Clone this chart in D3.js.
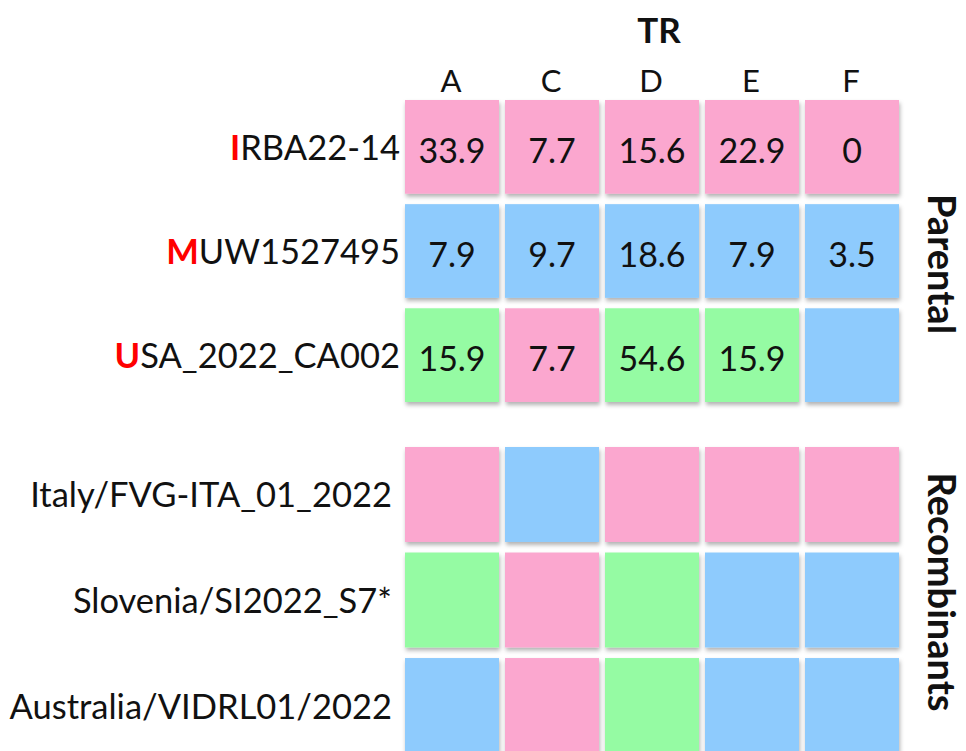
<!DOCTYPE html>
<html>
<head>
<meta charset="utf-8">
<script src="https://cdn.jsdelivr.net/npm/d3@7"></script>
<style>
  body { margin: 0; background: #fff; }
  svg { display: block; font-family: Lato, "Open Sans", sans-serif; }
</style>
</head>
<body>
<svg id="chart"></svg>
<script>
// TR columns
var columns = ['A', 'C', 'D', 'E', 'F'];

// parental strains (first letter is the parent code)
var parentalRows = ['IRBA22-14', 'MUW1527495', 'USA_2022_CA002'];
var recombinantRows = ['Italy/FVG-ITA_01_2022', 'Slovenia/SI2022_S7*', 'Australia/VIDRL01/2022'];

// which parent each cell comes from (I / M / U)
var parentalOrigin = [
	['I', 'I', 'I', 'I', 'I'],
	['M', 'M', 'M', 'M', 'M'],
	['U', 'I', 'U', 'U', 'M']
];
var recombinantOrigin = [
	['I', 'M', 'I', 'I', 'I'],
	['U', 'I', 'U', 'M', 'M'],
	['M', 'I', 'U', 'M', 'M']
];

// values shown in parental cells
var parentalValues = [
	[33.9, 7.7, 15.6, 22.9, 0],
	[7.9, 9.7, 18.6, 7.9, 3.5],
	[15.9, 7.7, 54.6, 15.9, null]
];

var originCodes = ['I', 'M', 'U'];
var originColors = ['#fba7cf', '#8ecbfd', '#95fba3'];

var width = 966, height = 751;

var svg = d3.select('#chart').attr('width', width).attr('height', height);

// drop shadow for the tiles
var filter = svg.append('defs').append('filter')
	.attr('id', 'shadow')
	.attr('x', '-10%').attr('y', '-10%')
	.attr('width', '130%').attr('height', '130%');
filter.append('feDropShadow')
	.attr('dx', 1).attr('dy', 3)
	.attr('stdDeviation', 2)
	.attr('flood-color', '#000')
	.attr('flood-opacity', 0.3);

var x = d3.scaleBand()
	.domain(columns)
	.range([405, 899])
	.paddingInner(0.06);

var color = d3.scaleOrdinal()
	.domain(originCodes)
	.range(originColors);

var groups = [
	{ name: 'Parental', rows: parentalRows, origin: parentalOrigin, values: parentalValues, range: [100, 402], labelX: 400, titleY: 264 },
	{ name: 'Recombinants', rows: recombinantRows, origin: recombinantOrigin, values: null, range: [447, 753], labelX: 392, titleY: 592 }
];

// column header
svg.append('text')
	.attr('x', x('D') + x.bandwidth() / 2 + 7)
	.attr('y', 43)
	.attr('text-anchor', 'middle')
	.attr('font-size', 35)
	.attr('font-weight', 'bold')
	.attr('fill', '#111')
	.text('TR');

svg.append('g')
	.selectAll('text')
	.data(columns)
	.join('text')
	.attr('x', function(d) { return x(d) + x.bandwidth() / 2 - 1; })
	.attr('y', 92)
	.attr('text-anchor', 'middle')
	.attr('font-size', 31)
	.attr('fill', '#111')
	.text(function(d) { return d; });

groups.forEach(function(g) {
	var y = d3.scaleBand()
		.domain(g.rows)
		.range(g.range)
		.paddingInner(0.1);

	var cells = [];
	g.rows.forEach(function(r, i) {
		columns.forEach(function(c, j) {
			cells.push({ row: r, col: c, origin: g.origin[i][j], value: g.values ? g.values[i][j] : null });
		});
	});

	var gg = svg.append('g').attr('class', 'group');

	gg.selectAll('rect')
		.data(cells)
		.join('rect')
		.attr('x', function(d) { return x(d.col); })
		.attr('y', function(d) { return y(d.row); })
		.attr('width', x.bandwidth())
		.attr('height', y.bandwidth())
		.attr('fill', function(d) { return color(d.origin); })
		.attr('filter', 'url(#shadow)');

	gg.selectAll('text.value')
		.data(cells.filter(function(d) { return d.value !== null; }))
		.join('text')
		.attr('class', 'value')
		.attr('x', function(d) { return x(d.col) + x.bandwidth() / 2; })
		.attr('y', function(d) { return y(d.row) + y.bandwidth() / 2 + 16; })
		.attr('text-anchor', 'middle')
		.attr('font-size', 34)
		.attr('fill', '#111')
		.text(function(d) { return d.value; });

	// row labels, parental ones have a red first letter
	var labels = gg.selectAll('text.row')
		.data(g.rows)
		.join('text')
		.attr('class', 'row')
		.attr('x', g.labelX)
		.attr('y', function(d) { return y(d) + y.bandwidth() / 2 + 13; })
		.attr('text-anchor', 'end')
		.attr('font-size', 34.5)
		.attr('fill', '#111');

	if (g.name === 'Parental') {
		labels.append('tspan')
			.attr('fill', '#f00')
			.attr('font-weight', 'bold')
			.text(function(d) { return d.charAt(0); });
		labels.append('tspan')
			.text(function(d) { return d.slice(1); });
	} else {
		labels.text(function(d) { return d; });
	}

	// group title on the right
	svg.append('text')
		.attr('transform', 'translate(928,' + g.titleY + ') rotate(90)')
		.attr('text-anchor', 'middle')
		.attr('font-size', 38)
		.attr('font-weight', 'bold')
		.attr('fill', '#111')
		.text(g.name);
});
</script>
</body>
</html>
